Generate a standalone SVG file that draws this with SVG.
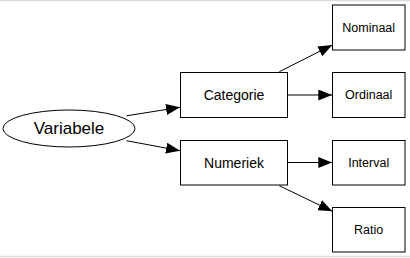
<svg xmlns="http://www.w3.org/2000/svg" width="410" height="258" viewBox="0 0 410 258">
  <style>
    .node rect, .node ellipse { fill: #ffffff; stroke: #000000; stroke-width: 1; }
    .node text { font-family: "Liberation Sans", Arial, sans-serif; fill: #000000; text-anchor: middle; dominant-baseline: central; }
    .edge { stroke: #000000; stroke-width: 1; fill: none; marker-end: url(#arrow); }
    .frame { stroke: #dcdcdc; stroke-width: 1.5; }
  </style>
  <defs>
    <marker id="arrow" markerUnits="userSpaceOnUse" markerWidth="14" markerHeight="11" refX="14" refY="5.5" orient="auto">
      <path d="M0,0 L14,5.5 L0,11 Z" fill="#000000"/>
    </marker>
  </defs>

  <rect x="0" y="0" width="410" height="258" fill="#ffffff"/>
  <line class="frame" x1="0" y1="0.5" x2="410" y2="0.5"/>
  <line class="frame" x1="0" y1="256.5" x2="410" y2="256.5"/>

  <g id="connectors">
    <line class="edge" x1="126.5" y1="115.8" x2="180" y2="107.3"/>
    <line class="edge" x1="126.5" y1="140.7" x2="180" y2="150.7"/>
    <line class="edge" x1="279.3" y1="71.7" x2="332.3" y2="45"/>
    <line class="edge" x1="287.5" y1="95" x2="332.3" y2="95"/>
    <line class="edge" x1="287.5" y1="162.5" x2="332.3" y2="162.5"/>
    <line class="edge" x1="279.3" y1="185.7" x2="332.3" y2="211.3"/>
  </g>

  <g id="variabele" class="node">
    <ellipse cx="69" cy="128.5" rx="66" ry="18.5"/>
    <text x="69" y="128.5" font-size="17">Variabele</text>
  </g>
  <g id="categorie" class="node">
    <rect x="180.5" y="72.5" width="107" height="45"/>
    <text x="234" y="95" font-size="14">Categorie</text>
  </g>
  <g id="numeriek" class="node">
    <rect x="180.5" y="140.5" width="107" height="44.5"/>
    <text x="234" y="162.7" font-size="14">Numeriek</text>
  </g>
  <g id="nominaal" class="node">
    <rect x="332.5" y="5" width="72.5" height="45"/>
    <text x="368.7" y="27.5" font-size="12.5">Nominaal</text>
  </g>
  <g id="ordinaal" class="node">
    <rect x="332.5" y="72.5" width="72.5" height="45"/>
    <text x="368.7" y="95" font-size="12.5">Ordinaal</text>
  </g>
  <g id="interval" class="node">
    <rect x="332.5" y="140.5" width="72.5" height="44.5"/>
    <text x="368.7" y="162.7" font-size="12.5">Interval</text>
  </g>
  <g id="ratio" class="node">
    <rect x="332.5" y="207.5" width="72.5" height="44.5"/>
    <text x="368.7" y="229.8" font-size="12.5">Ratio</text>
  </g>
</svg>
